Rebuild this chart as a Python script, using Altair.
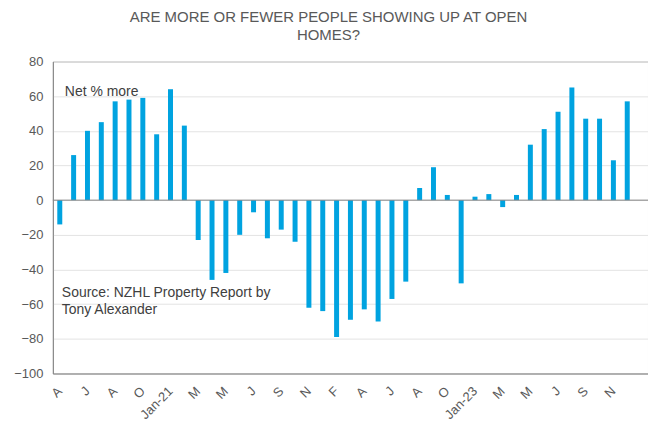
import altair as alt
import pandas as pd

# Net % of respondents seeing more people at open homes (monthly survey)
values = [-14, 26, 40, 45, 57, 58, 59, 38, 64, 43,
          -23, -46, -42, -20, -7, -22, -17, -24, -62, -64,
          -79, -69, -63, -70, -57, -47, 7, 19, 3, -48,
          2, 3.5, -4, 3, 32, 41, 51, 65, 47, 47,
          23, 57]
# category axis labels (every second slot labelled; 43 slots, last one empty)
tick_labels = ["A", "", "J", "", "A", "", "O", "", "Jan-21", "",
               "M", "", "M", "", "J", "", "S", "", "N", "",
               "F", "", "A", "", "J", "", "A", "", "O", "",
               "Jan-23", "", "M", "", "M", "", "J", "", "S", "",
               "N", "", ""]
y_ticks = [-100, -80, -60, -40, -20, 0, 20, 40, 60, 80]
title_lines = ["ARE MORE OR FEWER PEOPLE SHOWING UP AT OPEN", "HOMES?"]
note_top = "Net % more"
note_source = ["Source: NZHL Property Report by", "Tony Alexander"]

df = pd.DataFrame({"idx": list(range(len(values))), "value": values})
slots = list(range(len(tick_labels)))
label_expr = "[" + ",".join("'" + t + "'" for t in tick_labels) + "][datum.value]"

FONT = "Liberation Sans"
GREY = "#595959"

y_axis = alt.Axis(title=None, values=y_ticks, tickCount=len(y_ticks),
                  labelFontSize=13, labelColor=GREY, labelFont=FONT,
                  ticks=False, labelOverlap=False, domainColor="#868686",
                  gridColor="#e3e3e3", labelPadding=10)

bars = alt.Chart(df).mark_bar(size=5, color="#00A3E0").encode(
    x=alt.X("idx:O",
            scale=alt.Scale(domain=slots, paddingInner=0, paddingOuter=0),
            axis=alt.Axis(title=None, labelExpr=label_expr, labelAngle=-45,
                          labelFontSize=13, labelColor=GREY, labelFont=FONT,
                          ticks=False, domainColor="#868686", labelPadding=11,
                          labelOffset=-4, labelOverlap=False, grid=False)),
    y=alt.Y("value:Q",
            scale=alt.Scale(domain=[-100, 80], nice=False, zero=True),
            axis=y_axis),
)

zero = alt.Chart(pd.DataFrame({"z": [0]})).mark_rule(
    color="#868686", strokeWidth=1).encode(y=alt.Y("z:Q", axis=y_axis))

t1 = alt.Chart(pd.DataFrame({"t": [note_top]})).mark_text(
    align="left", baseline="alphabetic", fontSize=14, font=FONT,
    color="#404040").encode(x=alt.value(12), y=alt.value(35), text="t:N")

t2 = alt.Chart(pd.DataFrame({"t": [0]})).mark_text(
    align="left", baseline="alphabetic", fontSize=14, font=FONT,
    color="#404040", lineHeight=17, text=note_source).encode(
    x=alt.value(9), y=alt.value(236))

chart = alt.layer(bars, zero, t1, t2).properties(
    width=597, height=313,
    autosize=alt.AutoSizeParams(type="none"),
    padding={"left": 45, "top": 53, "right": 0, "bottom": 47},
    title=alt.TitleParams(text=title_lines, fontSize=15, font=FONT,
                          fontWeight="normal", color=GREY, anchor="middle",
                          dx=-22, lineHeight=18, offset=13),
).configure_view(stroke="#a6a6a6", strokeWidth=1)

chart.save("out.html", embed_options={"renderer": "svg", "actions": False})
